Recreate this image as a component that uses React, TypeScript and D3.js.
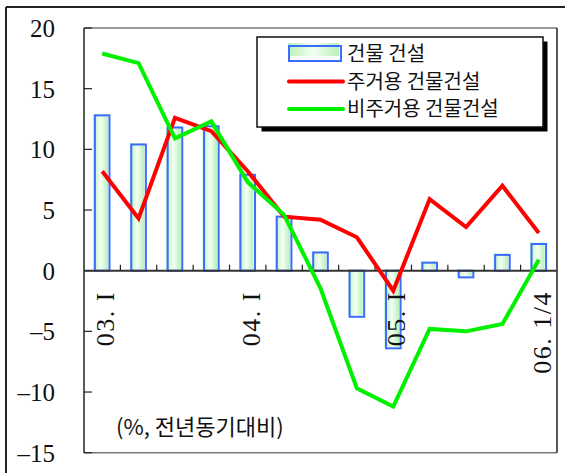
import React from "react";
import * as d3 from "d3";

// Quarterly year-on-year change (%), 2003 Q1 – 2006 Q1
const quarters = [
  "03Q1", "03Q2", "03Q3", "03Q4",
  "04Q1", "04Q2", "04Q3", "04Q4",
  "05Q1", "05Q2", "05Q3", "05Q4",
  "06Q1",
];
const quarterLabels: Record<string, string> = {
  "03Q1": "03. I",
  "04Q1": "04. I",
  "05Q1": "05. I",
  "06Q1": "06. 1/4",
};
const buildingTotal = [12.8, 10.4, 11.8, 11.9, 7.9, 4.45, 1.5, -3.8, -6.4, 0.66, -0.55, 1.3, 2.2];
const residential = [8.2, 4.3, 12.6, 11.5, 8.2, 4.45, 4.2, 2.75, -1.65, 5.9, 3.6, 7.0, 3.1];
const nonResidential = [17.9, 17.1, 10.9, 12.3, 7.3, 4.6, -1.45, -9.7, -11.2, -4.8, -5.0, -4.4, 0.9];
const yTicks = [20, 15, 10, 5, 0, -5, -10, -15];
const legendNames = ["건물 건설", "주거용 건물건설", "비주거용 건물건설"];
const unitNote = "(%, 전년동기대비)";

const W = 565;
const H = 473;
const plot = { left: 84, right: 557, top: 28, bottom: 452.7 };

const serif = "'Liberation Serif', 'DejaVu Serif', 'Noto Sans CJK KR', serif";
const korean = "'Noto Sans CJK KR', 'Liberation Serif', sans-serif";

export default function App() {
  const x = d3.scaleBand<string>().domain(quarters).range([plot.left, plot.right]);
  const y = d3.scaleLinear().domain([-15, 20]).range([plot.bottom, plot.top]);
  const cx = (q: string) => (x(q) ?? 0) + x.bandwidth() / 2;
  const barW = 14.6;

  const line = d3
    .line<number>()
    .x((_, i) => cx(quarters[i]))
    .y((d) => y(d));

  const fmt = (v: number) => (v < 0 ? "\u2013" + Math.abs(v) : String(v));

  return (
    <svg
      width={W}
      height={H}
      style={{ position: "absolute", left: 0, top: 0, background: "#fff" }}
    >
      <defs>
        <linearGradient id="barFill" x1="0" x2="1" y1="0" y2="0">
          <stop offset="0" stopColor="#b8f0b8" />
          <stop offset="0.5" stopColor="#f4fff4" />
          <stop offset="1" stopColor="#b8f0b8" />
        </linearGradient>
      </defs>

      {/* outer frame (left and top edges) */}
      <line x1={6} y1={7} x2={W} y2={7} stroke="#222" strokeWidth={2} />
      <line x1={6} y1={7} x2={6} y2={H} stroke="#222" strokeWidth={2} />

      {/* plot area border */}
      <line x1={plot.left} y1={plot.top} x2={plot.right} y2={plot.top} stroke="#777" strokeWidth={1.5} />
      <line x1={plot.left} y1={plot.bottom} x2={plot.right} y2={plot.bottom} stroke="#777" strokeWidth={1.5} />
      <line x1={plot.left} y1={plot.top} x2={plot.left} y2={plot.bottom} stroke="#222" strokeWidth={1.5} />
      <line x1={plot.right} y1={plot.top} x2={plot.right} y2={plot.bottom} stroke="#222" strokeWidth={1.5} />

      {/* y axis ticks and labels */}
      {yTicks.map((t) => (
        <g key={t}>
          <line x1={plot.left} x2={plot.left + 8} y1={y(t)} y2={y(t)} stroke="#222" strokeWidth={1.2} />
          <text
            x={55}
            y={y(t)}
            dy="0.36em"
            textAnchor="end"
            fontFamily={serif}
            fontSize={25}
            fill="#111"
          >
            {fmt(t)}
          </text>
        </g>
      ))}

      {/* bars: total building construction */}
      {buildingTotal.map((v, i) => {
        const q = quarters[i];
        const top = y(Math.max(0, v));
        const h = Math.abs(y(v) - y(0));
        const bx = cx(q) - barW / 2;
        return (
          <g key={q}>
            <rect x={bx - 1.5} y={top - 1.5} width={barW} height={h} fill="url(#barFill)" />
            <rect x={bx} y={top} width={barW} height={h} fill="none" stroke="#3a6cff" strokeWidth={2} />
          </g>
        );
      })}

      {/* zero line with quarter separators */}
      <line x1={plot.left} x2={plot.right} y1={y(0)} y2={y(0)} stroke="#333" strokeWidth={2} />
      {quarters.slice(1).map((q) => (
        <line
          key={"sep" + q}
          x1={x(q)}
          x2={x(q)}
          y1={y(0)}
          y2={y(0) - 6}
          stroke="#222"
          strokeWidth={1.2}
        />
      ))}

      {/* lines */}
      <path d={line(residential) ?? ""} fill="none" stroke="#ff0000" strokeWidth={4} strokeLinejoin="miter" />
      <path d={line(nonResidential) ?? ""} fill="none" stroke="#00f000" strokeWidth={4} strokeLinejoin="miter" />

      {/* x labels, rotated */}
      {quarters
        .filter((q) => quarterLabels[q])
        .map((q) => (
          <text
            key={"xl" + q}
            transform={`translate(${cx(q) + 12},291) rotate(-90)`}
            textAnchor="end"
            fontFamily={serif}
            fontSize={26}
            letterSpacing={1.5}
            fill="#111"
          >
            {quarterLabels[q]}
          </text>
        ))}

      {/* unit note */}
      <text x={116} y={435} fontFamily={korean} fontSize={22} fill="#111">
        {unitNote}
      </text>

      {/* legend */}
      <g>
        <rect x={261.5} y={41.5} width={286} height={90} fill="#000" />
        <rect x={257} y={37} width={286} height={90} fill="#fff" stroke="#111" strokeWidth={1.5} />
        <rect x={288} y={43} width={51} height={13} fill="url(#barFill)" />
        <rect x={289} y={46} width={52} height={15} fill="none" stroke="#3a6cff" strokeWidth={2} />
        <line x1={289} x2={343} y1={81.5} y2={81.5} stroke="#ff0000" strokeWidth={4} strokeLinecap="round" />
        <line x1={289} x2={343} y1={109} y2={109} stroke="#00f000" strokeWidth={4} strokeLinecap="round" />
        {legendNames.map((name, i) => (
          <text
            key={name}
            x={347}
            y={54 + i * 27.5}
            dy="0.36em"
            fontFamily={korean}
            fontSize={20}
            fill="#111"
          >
            {name}
          </text>
        ))}
      </g>
    </svg>
  );
}
